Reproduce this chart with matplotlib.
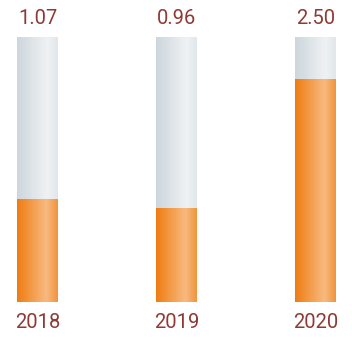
import numpy as np
import matplotlib
matplotlib.use("Agg")
import matplotlib.pyplot as plt
from matplotlib.colors import LinearSegmentedColormap
import matplotlib.transforms as mtransforms

years = ["2018", "2019", "2020"]
values = [1.07, 0.96, 2.50]
value_labels = ["1.07", "0.96", "2.50"]
ymin, ymax = -0.15, 3.0

W, H = 352, 338
fig = plt.figure(figsize=(W / 100, H / 100), dpi=100)
ax = fig.add_axes([0, (H - 302) / H, 1, 265 / H])
ax.set_xlim(-37.5 / 139, (W - 37.5) / 139)
ax.set_ylim(ymin, ymax)
ax.axis("off")

gray = LinearSegmentedColormap.from_list("g", [(0, (205/255, 214/255, 220/255)),
                                               (0.75, (239/255, 242/255, 244/255)),
                                               (1.0, (224/255, 230/255, 234/255))])
orange = LinearSegmentedColormap.from_list("o", [(0, (239/255, 124/255, 18/255)),
                                                 (0.72, (248/255, 186/255, 128/255)),
                                                 (1.0, (240/255, 148/255, 60/255))])
grad = np.linspace(0, 1, 256).reshape(1, -1)
bw = 41 / 139
txt_color = "#8e3a34"
trans = mtransforms.blended_transform_factory(ax.transData, ax.transAxes)
for i, (yr, v, lab) in enumerate(zip(years, values, value_labels)):
    ax.imshow(grad, cmap=gray, aspect="auto", extent=[i - bw/2, i + bw/2, ymin, ymax],
              interpolation="bilinear")
    ax.imshow(grad, cmap=orange, aspect="auto", extent=[i - bw/2, i + bw/2, ymin, v],
              interpolation="bilinear")
    ax.text(i, 1.068, lab, transform=trans, ha="center", va="center",
            fontsize=14.5, color=txt_color, family="Roboto", fontweight="normal", clip_on=False)
    ax.text(i, -0.079, yr, transform=trans, ha="center", va="center",
            fontsize=14.5, color=txt_color, family="Roboto", fontweight="normal", clip_on=False)
ax.set_xlim(-37.5 / 139, (W - 37.5) / 139)
ax.set_ylim(ymin, ymax)
fig.savefig("out.png", dpi=100)
